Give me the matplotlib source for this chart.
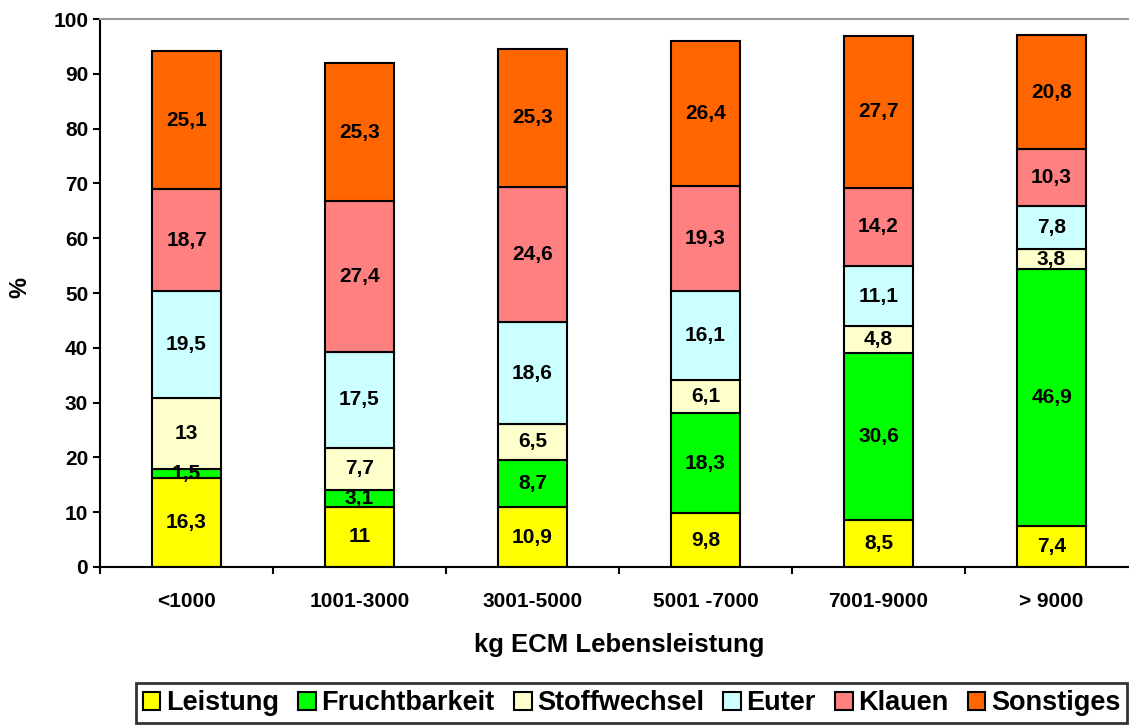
import numpy as np
import matplotlib.pyplot as plt

categories = ['<1000', '1001-3000', '3001-5000', '5001 -7000', '7001-9000', '> 9000']
leistung = [16.3, 11, 10.9, 9.8, 8.5, 7.4]
fruchtbarkeit = [1.5, 3.1, 8.7, 18.3, 30.6, 46.9]
stoffwechsel = [13, 7.7, 6.5, 6.1, 4.8, 3.8]
euter = [19.5, 17.5, 18.6, 16.1, 11.1, 7.8]
klauen = [18.7, 27.4, 24.6, 19.3, 14.2, 10.3]
sonstiges = [25.1, 25.3, 25.3, 26.4, 27.7, 20.8]

series = [('Leistung', leistung, '#FFFF00'),
          ('Fruchtbarkeit', fruchtbarkeit, '#00FF00'),
          ('Stoffwechsel', stoffwechsel, '#FFFFCC'),
          ('Euter', euter, '#CCFFFF'),
          ('Klauen', klauen, '#FF8080'),
          ('Sonstiges', sonstiges, '#FF6600')]

plt.rcParams['font.family'] = ['Liberation Sans', 'DejaVu Sans']
plt.rcParams['font.weight'] = 'bold'

W, H = 1129, 726
fig = plt.figure(figsize=(W / 100, H / 100), dpi=100)
ax = fig.add_axes([100 / W, 159 / H, 1038 / W, 548 / H])

x = np.arange(len(categories))
bottom = np.zeros(len(categories))
for name, vals, col in series:
    vals = np.array(vals, dtype=float)
    ax.bar(x, vals, 0.4, bottom=bottom, color=col, edgecolor='black',
           linewidth=1.5, label=name)
    for xi, b, v in zip(x, bottom, vals):
        ax.text(xi, b + v / 2, f'{v:g}'.replace('.', ','), ha='center', va='center',
                fontsize=15, fontweight='bold')
    bottom += vals

ax.set_xlim(-0.5, len(categories) - 0.5)
ax.set_ylim(0, 100)
ax.set_yticks(np.arange(0, 101, 10))
ax.set_xticks(x)
ax.set_xticklabels(categories)
ax.set_xticks(np.arange(-0.5, len(categories), 1), minor=True)
ax.tick_params(axis='x', which='major', length=0, pad=18, labelsize=15)
ax.tick_params(axis='x', which='minor', length=5, width=1.5)
ax.tick_params(axis='y', length=5, width=1.5, labelsize=15)

ax.spines['right'].set_visible(False)
ax.spines['top'].set_color('#999999')
ax.spines['top'].set_linewidth(1.5)
ax.spines['left'].set_linewidth(1.5)
ax.spines['bottom'].set_linewidth(1.5)

ax.set_xlabel('kg ECM Lebensleistung', fontsize=18.5, fontweight='bold', labelpad=16)
fig.text(20 / W, 1 - 288 / H, '%', rotation=90, ha='center', va='center',
         fontsize=17, fontweight='bold')

handles, labels = ax.get_legend_handles_labels()
leg = fig.legend(handles, labels, ncol=6, loc='lower left', mode='expand',
                 bbox_to_anchor=(136 / W, 3 / H, 991 / W, 41 / H),
                 prop={'size': 19.5, 'weight': 'bold'}, frameon=True, fancybox=False,
                 handlelength=0.65, handleheight=0.65, handletextpad=0.2,
                 columnspacing=0.4, borderpad=0.25, borderaxespad=0)
leg.get_frame().set_edgecolor('black')
leg.get_frame().set_linewidth(2)

fig.savefig('out.png', dpi=100)
